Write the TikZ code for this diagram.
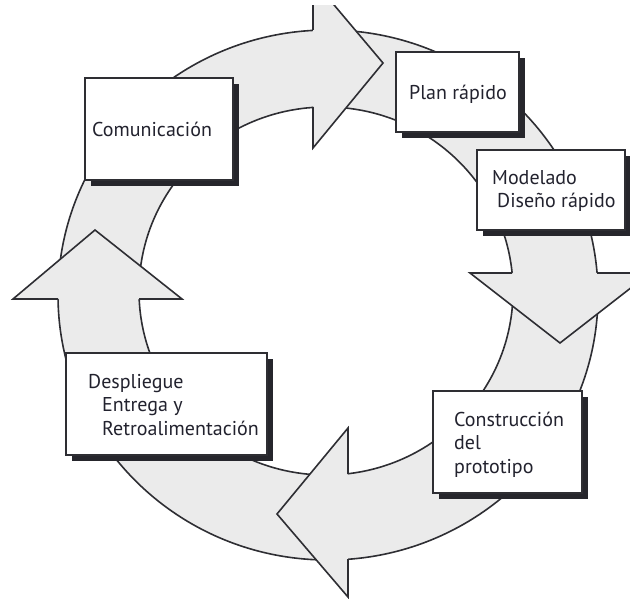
\documentclass[tikz,border=0pt]{standalone}
\usepackage{fontspec}
\setmainfont{PT Sans}
\usetikzlibrary{shadows}
\definecolor{ringfill}{HTML}{EBEBEB}
\definecolor{ringline}{HTML}{2E2E33}
\definecolor{shadowc}{HTML}{26262C}
\definecolor{textc}{HTML}{22222E}
\begin{document}
\begin{tikzpicture}[x=1pt,y=-1pt,
  ring/.style={fill=ringfill, draw=ringline, line width=1.6pt, even odd rule},
  headfill/.style={fill=ringfill},
  headline/.style={draw=ringline, line width=1.6pt, line join=miter},
  stagebox/.style={draw=ringline, line width=2pt, fill=white, anchor=north west,
    inner sep=0pt, outer sep=0pt,
    drop shadow={shadow xshift=6pt, shadow yshift=-6pt, fill=shadowc, opacity=1}},
  stagetext/.style={anchor=base west, align=left, inner sep=0pt, text=textc,
    font=\fontsize{20}{23.5}\selectfont},
]
\useasboundingbox (0,0) rectangle (630,599);
\clip (0,6) rectangle (630,599);
% ring
\path[ring] (328,295) ellipse [x radius=270pt, y radius=265pt]
            (326,291) ellipse [x radius=187pt, y radius=184pt];
% arrow heads
% top (pointing right)
\fill[headfill] (313,30) -- (313,-20) -- (383,63) -- (313,148) -- (313,107) -- cycle;
\draw[headline] (313,30) -- (313,-20) -- (383,63) -- (313,148) -- (313,107);
% right (pointing down)
\fill[headfill] (512,273) -- (470,273) -- (560,343) -- (650,273) -- (597,273) -- cycle;
\draw[headline] (512,273) -- (470,273) -- (560,343) -- (650,273) -- (597,273);
% bottom (pointing left)
\fill[headfill] (348,474) -- (348,428) -- (277,514) -- (348,597) -- (348,559) -- cycle;
\draw[headline] (348,474) -- (348,428) -- (277,514) -- (348,597) -- (348,559);
% left (pointing up)
\fill[headfill] (58,299) -- (13,299) -- (95,230) -- (182,299) -- (139,299) -- cycle;
\draw[headline] (58,299) -- (13,299) -- (95,230) -- (182,299) -- (139,299);
% boxes
\node[stagebox, minimum width=148pt, minimum height=102pt] (com) at (85,78) {};
\node[stagetext] (comtxt) at (92,137) {Comunicación};
\node[stagebox, minimum width=123pt, minimum height=80pt] (plan) at (396,52) {};
\node[stagetext] (plantxt) at (409,100) {Plan rápido};
\node[stagebox, minimum width=148pt, minimum height=80pt] (mod) at (477,150) {};
\node[stagetext] (modtxt) at (492,208) {Modelado\\\hspace*{5pt}Diseño rápido};
\node[stagebox, minimum width=201pt, minimum height=102pt] (desp) at (66,353) {};
\node[stagetext] (desptxt) at (88,435) {Despliegue\\\hspace*{14pt}Entrega y\\\hspace*{14pt}Retroalimentación};
\node[stagebox, minimum width=149pt, minimum height=102pt] (cons) at (433,391) {};
\node[stagetext] (constxt) at (454,473) {Construcción\\del\\prototipo};
\end{tikzpicture}
\end{document}
